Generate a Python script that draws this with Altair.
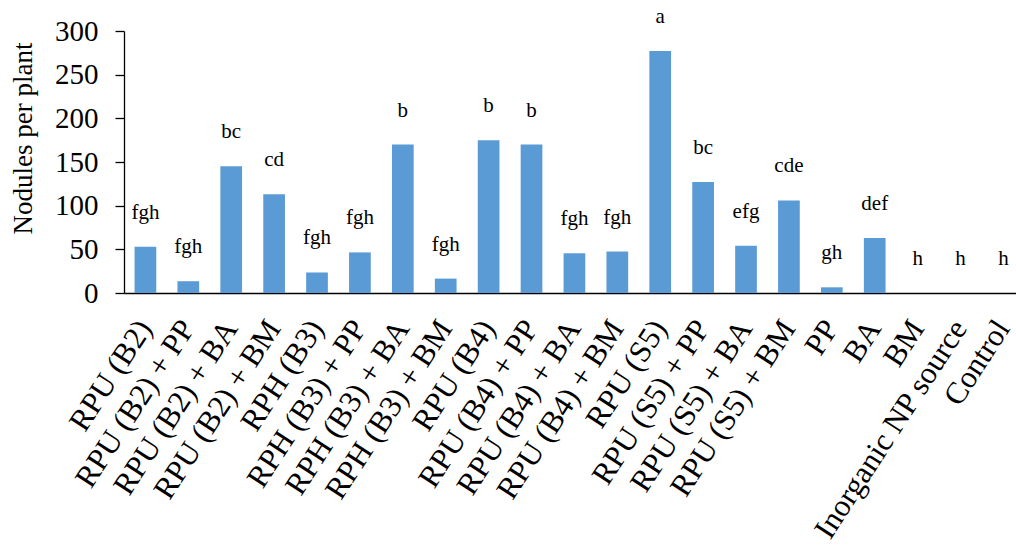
import altair as alt
import pandas as pd

# Treatments, mean nodule counts and significance letters
treatments = [
    "RPU (B2)", "RPU (B2) + PP", "RPU (B2) + BA", "RPU (B2) + BM",
    "RPH (B3)", "RPH (B3) + PP", "RPH (B3) + BA", "RPH (B3) + BM",
    "RPU (B4)", "RPU (B4) + PP", "RPU (B4) + BA", "RPU (B4) + BM",
    "RPU (S5)", "RPU (S5) + PP", "RPU (S5) + BA", "RPU (S5) + BM",
    "PP", "BA", "BM", "Inorganic NP source", "Control",
]
nodules = [53, 13.5, 145, 113, 23.5, 46.5, 170, 16.5, 175, 170, 45.5, 47.5,
           277, 127, 54, 106, 6.5, 63, 0, 0, 0]
letters = ["fgh", "fgh", "bc", "cd", "fgh", "fgh", "b", "fgh", "b", "b", "fgh", "fgh",
           "a", "bc", "efg", "cde", "gh", "def", "h", "h", "h"]
y_ticks = [0, 50, 100, 150, 200, 250, 300]

df = pd.DataFrame({"treatment": treatments, "nodules": nodules, "letter": letters})

FONT = "Liberation Serif"

x_scale = alt.Scale(paddingInner=0.494, paddingOuter=0.143, align=0.86)
y_scale = alt.Scale(domain=[0, 300], nice=False)

base = alt.Chart(df).encode(
    x=alt.X("treatment:N", sort=treatments, title=None, scale=x_scale),
    y=alt.Y("nodules:Q", title="Nodules per plant", scale=y_scale,
            axis=alt.Axis(values=y_ticks)),
)

bars = base.mark_bar(color="#5B9BD5")

labels = base.mark_text(
    font=FONT, fontSize=21, color="#000000", baseline="middle", dy=-34
).encode(text="letter:N")

chart = (
    alt.layer(bars, labels)
    .properties(
        width=892, height=262,
        autosize=alt.AutoSizeParams(type="none"),
        padding={"left": 124, "top": 31, "right": 0, "bottom": 259},
        background="white",
    )
    .configure_view(stroke=None)
    .configure_axis(
        grid=False, domainColor="#000000", labelColor="#000000",
        labelFont=FONT, titleFont=FONT, titleFontWeight="normal",
        titleColor="#000000",
    )
    .configure_axisX(
        labelAngle=-57, labelAlign="right", labelBaseline="middle",
        labelFontSize=31, labelPadding=30, ticks=False,
        domainWidth=1.6, labelOverlap=False, labelLimit=400,
    )
    .configure_axisY(
        labelFontSize=29, labelPadding=17, tickSize=9, tickColor="#000000",
        tickWidth=1.3, domainWidth=1.3, titleFontSize=27,
        titleX=-93, titleY=107, titleAlign="center", titleBaseline="alphabetic",
        titleAngle=270,
    )
)

chart.save("out.html", embed_options={"renderer": "svg", "actions": False})
